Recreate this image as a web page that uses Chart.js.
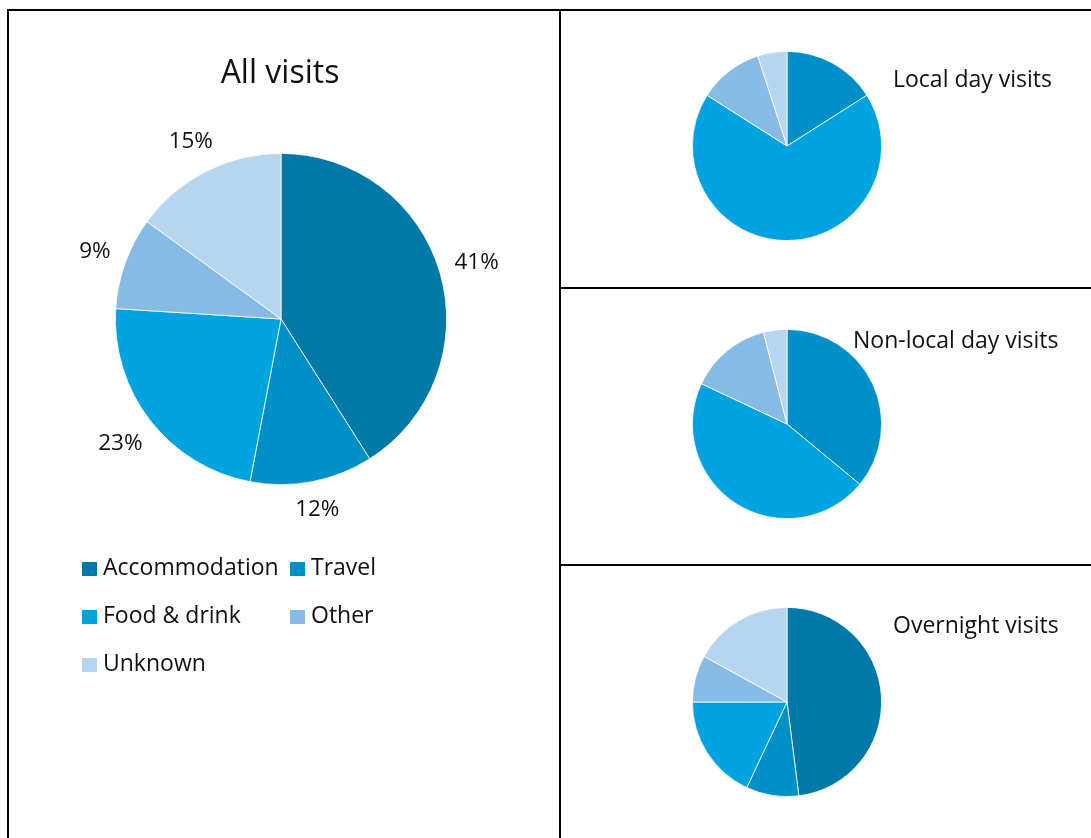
<!DOCTYPE html>
<html>
<head>
<meta charset="utf-8">
<script src="https://cdn.jsdelivr.net/npm/chart.js@4"></script>
<style>
  body { margin: 0; background: #fff; width: 1091px; height: 838px; overflow: hidden; position: relative; font-family: "Open Sans", Lato, sans-serif; }
  .line { position: absolute; background: #000; }
  canvas { position: absolute; }
  .legend { position: absolute; left: 82px; top: 552px; width: 320px; font-size: 23px; color: #111; }
  .legend .item { position: absolute; white-space: nowrap; line-height: 28px; }
  .legend .box { display: inline-block; width: 15px; height: 14px; margin-right: 6px; vertical-align: -1px; }
</style>
</head>
<body>
<div class="line" style="left:7px;top:9px;width:1084px;height:2px"></div>
<div class="line" style="left:7px;top:9px;width:2px;height:829px"></div>
<div class="line" style="left:559px;top:9px;width:2px;height:829px"></div>
<div class="line" style="left:559px;top:287px;width:532px;height:2px"></div>
<div class="line" style="left:559px;top:564px;width:532px;height:2px"></div>

<canvas id="allVisits" style="left:9px;top:11px"></canvas>
<canvas id="localDay" style="left:561px;top:11px"></canvas>
<canvas id="nonLocalDay" style="left:561px;top:289px"></canvas>
<canvas id="overnight" style="left:561px;top:566px"></canvas>
<div class="legend" id="legend"></div>

<script>
// Spending categories and their colours
const categories = ['Accommodation', 'Travel', 'Food & drink', 'Other', 'Unknown'];
const colors = ['#0079a8', '#008fc6', '#00a3e0', '#86bbe6', '#b6d5ef'];

// Share of spend (%) per visit type
const allVisits = [41, 12, 23, 9, 15];
const localDay = [0, 16, 68, 11, 5];
const nonLocalDay = [0, 36, 46, 14, 4];
const overnight = [48, 9, 18, 8, 17];

const FONT = '"Open Sans", Lato, sans-serif';

// Title drawn at a fixed spot in the canvas
const titlePlugin = {
    id: 'cellTitle',
    afterDraw(chart, args, opts) {
        const c = chart.ctx;
        c.save();
        c.font = opts.size + 'px ' + FONT;
        c.fillStyle = '#111';
        c.textAlign = opts.align;
        c.textBaseline = 'alphabetic';
        c.fillText(opts.text, opts.x, opts.y);
        c.restore();
    }
};

// Percent labels just outside each slice
const outsideLabels = {
    id: 'outsideLabels',
    afterDatasetsDraw(chart, args, opts) {
        if (!opts.show) return;
        const c = chart.ctx;
        const meta = chart.getDatasetMeta(0);
        const data = chart.data.datasets[0].data;
        c.save();
        c.font = opts.size + 'px ' + FONT;
        c.fillStyle = '#111';
        c.textAlign = 'center';
        c.textBaseline = 'middle';
        meta.data.forEach((arc, i) => {
            const text = data[i] + '%';
            const mid = (arc.startAngle + arc.endAngle) / 2;
            const w = c.measureText(text).width;
            const h = opts.size * 0.9;
            const dx = Math.cos(mid), dy = Math.sin(mid);
            const dist = arc.outerRadius + opts.gap + Math.abs(dx) * w / 2 + Math.abs(dy) * h / 2;
            c.fillText(text, arc.x + dx * dist, arc.y + dy * dist);
        });
        c.restore();
    }
};

function makePie(id, values, w, h, pad, title, labels) {
    const el = document.getElementById(id);
    el.width = w;
    el.height = h;
    el.style.width = w + 'px';
    el.style.height = h + 'px';
    return new Chart(el, {
        type: 'pie',
        data: {
            labels: categories,
            datasets: [{
                data: values,
                backgroundColor: colors,
                borderColor: '#fff',
                borderWidth: ctx => ctx.raw === 0 ? 0 : 0.8
            }]
        },
        options: {
            responsive: false,
            animation: false,
            layout: { padding: pad },
            plugins: {
                legend: { display: false },
                tooltip: { enabled: false },
                cellTitle: title,
                outsideLabels: labels
            }
        },
        plugins: [titlePlugin, outsideLabels]
    });
}

makePie('allVisits', allVisits, 550, 827,
    { left: 106, right: 112, top: 142, bottom: 353 },
    { text: 'All visits', x: 271, y: 72, size: 32, align: 'center' },
    { show: true, size: 22.5, gap: 14 });

makePie('localDay', localDay, 530, 276,
    { left: 131, right: 209, top: 40, bottom: 46 },
    { text: 'Local day visits', x: 332, y: 76, size: 23, align: 'left' },
    { show: false });

makePie('nonLocalDay', nonLocalDay, 530, 275,
    { left: 131, right: 209, top: 40, bottom: 45 },
    { text: 'Non-local day visits', x: 292, y: 59, size: 23, align: 'left' },
    { show: false });

makePie('overnight', overnight, 530, 272,
    { left: 131, right: 209, top: 41, bottom: 41 },
    { text: 'Overnight visits', x: 332, y: 67, size: 23, align: 'left' },
    { show: false });

// Legend built from the same categories and colours
const legend = document.getElementById('legend');
const slots = [[0, 0], [208, 0], [0, 48], [208, 48], [0, 96]];
categories.forEach((name, i) => {
    const item = document.createElement('div');
    item.className = 'item';
    item.style.left = slots[i][0] + 'px';
    item.style.top = slots[i][1] + 'px';
    item.innerHTML = '<span class="box" style="background:' + colors[i] + '"></span>';
    item.appendChild(document.createTextNode(name));
    legend.appendChild(item);
});
</script>
</body>
</html>
